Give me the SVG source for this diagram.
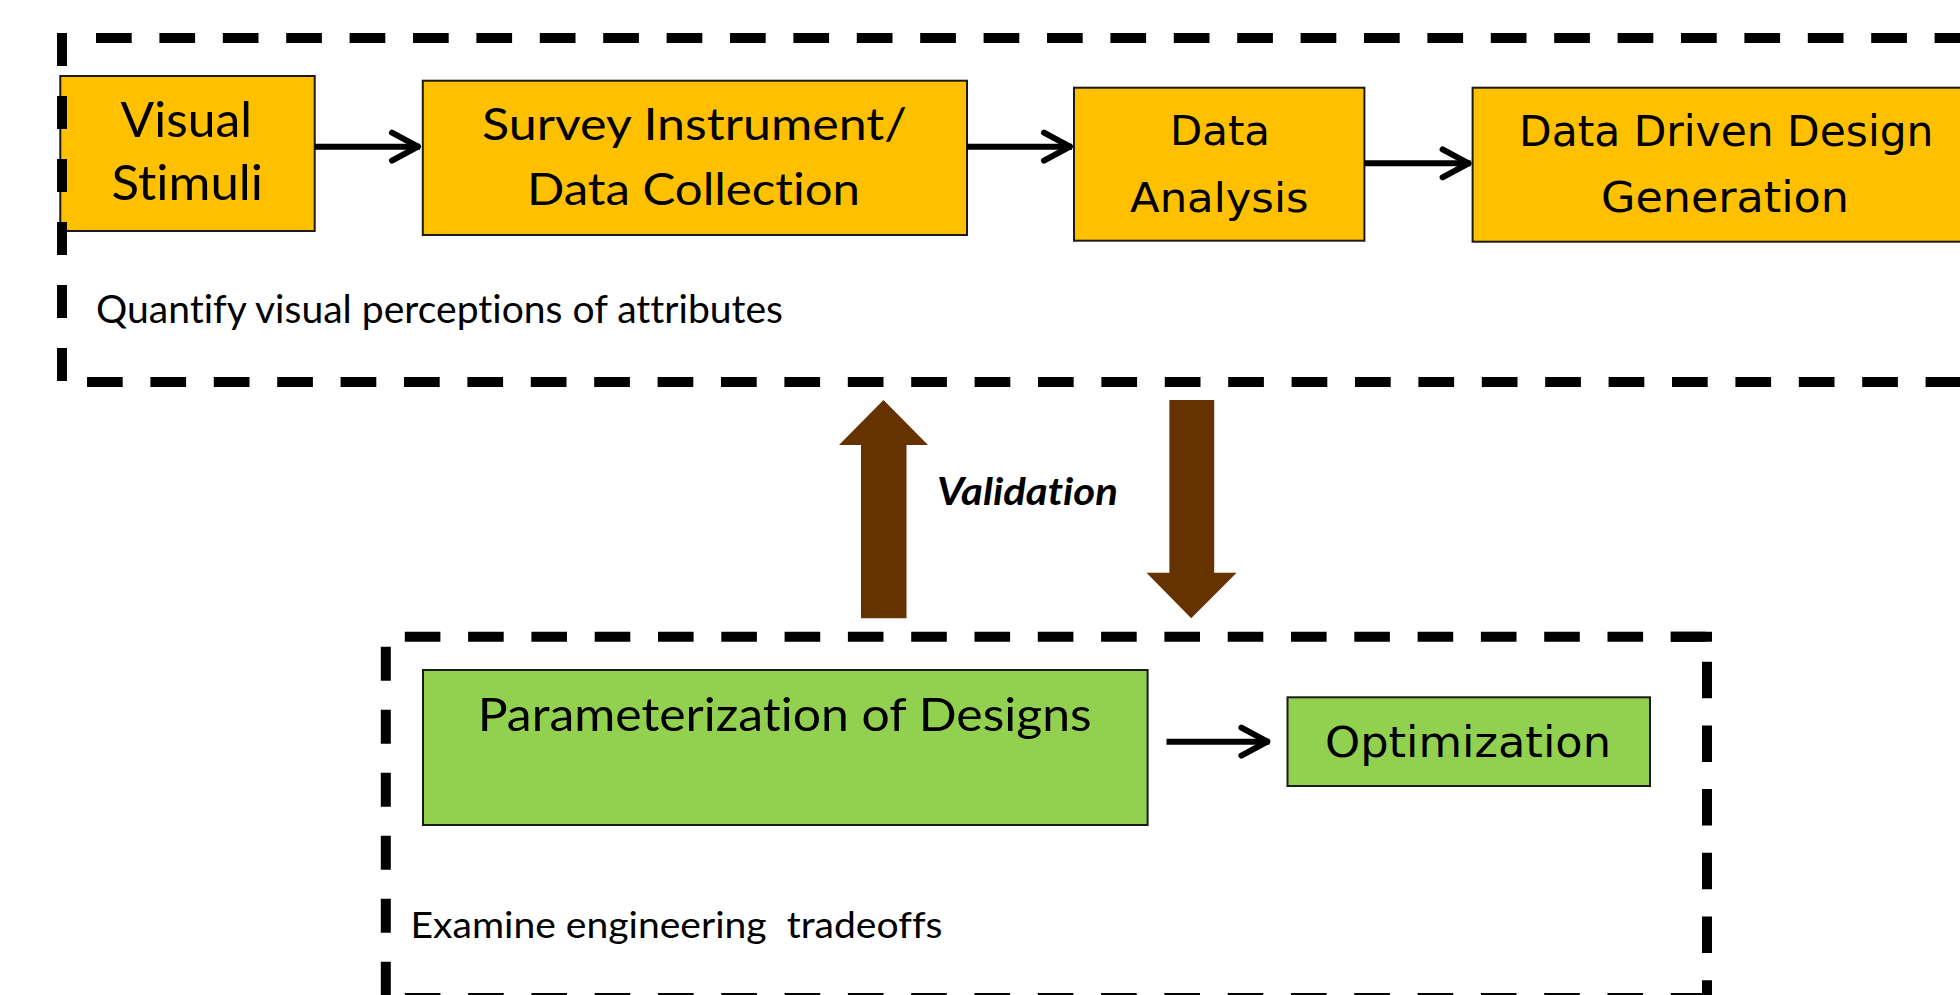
<svg xmlns="http://www.w3.org/2000/svg" width="1960" height="995" viewBox="0 0 1960 995">
  <defs>
    <style>
      .box-o { fill: #FFC000; stroke: #1a1a1a; stroke-width: 2; }
      .box-g { fill: #92D050; stroke: #1a1a1a; stroke-width: 2; }
      text { font-variant-ligatures: none; font-feature-settings: "liga" 0, "clig" 0, "dlig" 0; }
      .cal { font-family: Lato, "Open Sans", "Liberation Sans", sans-serif; fill: #000; }
      .tah { font-family: "DejaVu Sans", Verdana, sans-serif; fill: #000; }
      .frame { fill: none; stroke: #000; stroke-width: 10; }
      .conn { fill: none; stroke: #000; stroke-width: 6; }
      .flow { fill: #663300; }
    </style>
    <marker id="chev" markerUnits="userSpaceOnUse" viewBox="-34 -20 40 40" refX="0" refY="0" markerWidth="40" markerHeight="40" orient="auto">
      <path d="M-28,-14 L-2,0 L-28,14" fill="none" stroke="#000" stroke-width="6" stroke-linecap="round" stroke-linejoin="round"/>
    </marker>
  </defs>

  <rect width="1960" height="995" fill="#fff"/>

  <!-- process steps -->
  <g id="visual-stimuli">
    <rect class="box-o" x="60.3" y="76" width="254.4" height="155"/>
    <text class="cal" x="120.5" y="137" font-size="48" textLength="131.5" lengthAdjust="spacingAndGlyphs">Visual</text>
    <text class="cal" x="111.6" y="200" font-size="48" textLength="151.5" lengthAdjust="spacingAndGlyphs">Stimuli</text>
  </g>
  <g id="survey-instrument">
    <rect class="box-o" x="422.8" y="80.7" width="544.2" height="154.3"/>
    <text class="cal" x="482" y="140" font-size="45" textLength="425" lengthAdjust="spacingAndGlyphs">Survey Instrument/</text>
    <text class="cal" x="527" y="205" font-size="45" textLength="333" lengthAdjust="spacingAndGlyphs">Data Collection</text>
  </g>
  <g id="data-analysis">
    <rect class="box-o" x="1074" y="87.7" width="290.4" height="153"/>
    <text class="tah" x="1170" y="145" font-size="41" textLength="100" lengthAdjust="spacingAndGlyphs">Data</text>
    <text class="tah" x="1130" y="211.7" font-size="41" textLength="178.5" lengthAdjust="spacingAndGlyphs">Analysis</text>
  </g>
  <g id="design-generation">
    <rect class="box-o" x="1472.6" y="87.7" width="520" height="154"/>
    <text class="tah" x="1519" y="145.7" font-size="42" textLength="414.5" lengthAdjust="spacingAndGlyphs">Data Driven Design</text>
    <text class="tah" x="1601" y="211.7" font-size="42" textLength="248" lengthAdjust="spacingAndGlyphs">Generation</text>
  </g>
  <g id="parameterization">
    <rect class="box-g" x="423" y="670" width="724.6" height="155"/>
    <text class="cal" x="477.7" y="730.7" font-size="47" textLength="614" lengthAdjust="spacingAndGlyphs">Parameterization of Designs</text>
  </g>
  <g id="optimization">
    <rect class="box-g" x="1287.5" y="697.3" width="362.5" height="88.7"/>
    <text class="tah" x="1325" y="757.3" font-size="42.5" textLength="286" lengthAdjust="spacingAndGlyphs">Optimization</text>
  </g>

  <!-- dashed group frames with captions -->
  <g id="perception-frame">
    <line class="frame" x1="96" y1="38" x2="1960" y2="38" stroke-dasharray="35.7 27.7"/>
    <line class="frame" x1="62" y1="33" x2="62" y2="387" stroke-dasharray="33 30"/>
    <line class="frame" x1="87" y1="382" x2="1960" y2="382" stroke-dasharray="35.7 27.7"/>
    <text class="cal" x="96" y="323" font-size="39" textLength="687" lengthAdjust="spacingAndGlyphs">Quantify visual perceptions of attributes</text>
  </g>
  <g id="engineering-frame">
    <line class="frame" x1="404.8" y1="636.7" x2="1706" y2="636.7" stroke-dasharray="35.6 27.7"/>
    <line class="frame" x1="1670.8" y1="636.7" x2="1712" y2="636.7"/>
    <line class="frame" x1="385.8" y1="646.7" x2="385.8" y2="1000" stroke-dasharray="34 29"/>
    <line class="frame" x1="1707" y1="661.7" x2="1707" y2="1000" stroke-dasharray="36.5 27.2"/>
    <line class="frame" x1="404.8" y1="998" x2="1712" y2="998" stroke-dasharray="35.6 27.7"/>
    <text class="cal" x="410.5" y="937.7" font-size="36" textLength="532" lengthAdjust="spacingAndGlyphs" xml:space="preserve">Examine engineering  tradeoffs</text>
  </g>

  <!-- connectors -->
  <g id="connectors">
    <line class="conn" x1="315" y1="146.7" x2="420" y2="146.7" marker-end="url(#chev)"/>
    <line class="conn" x1="967" y1="146.7" x2="1072" y2="146.7" marker-end="url(#chev)"/>
    <line class="conn" x1="1364.4" y1="163.3" x2="1470.6" y2="163.3" marker-end="url(#chev)"/>
    <line class="conn" x1="1166.5" y1="741.7" x2="1269.4" y2="741.7" marker-end="url(#chev)"/>
    <polygon class="flow" points="883.5,400 928,445 906.5,445 906.5,618.3 861,618.3 861,445 839,445"/>
    <polygon class="flow" points="1169.4,400 1214.2,400 1214.2,572.7 1236.6,572.7 1191.2,618.3 1146.5,572.7 1169.4,572.7"/>
    <text class="cal" x="937" y="505" font-size="38" font-weight="bold" font-style="italic" textLength="181" lengthAdjust="spacingAndGlyphs">Validation</text>
  </g>
</svg>
